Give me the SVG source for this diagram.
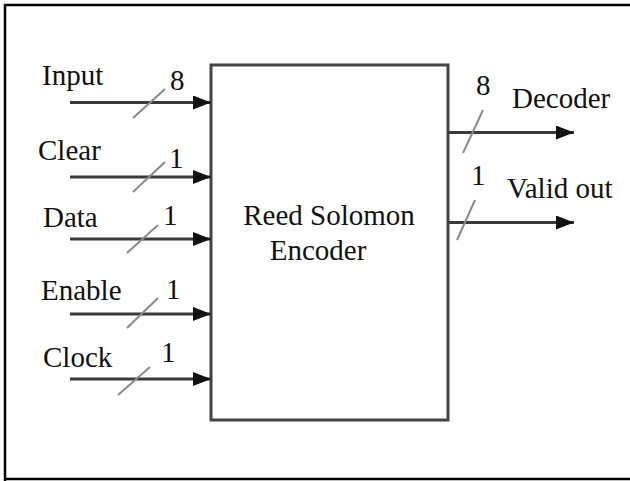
<svg xmlns="http://www.w3.org/2000/svg" width="630" height="481" viewBox="0 0 630 481">
<defs>
<style>
text{font-family:"Liberation Serif","Times New Roman",serif;font-size:29px;fill:#111}
.w{stroke:#3a3a3a;stroke-width:3;fill:none}
.s{stroke:#8a8a8a;stroke-width:2;fill:none}
</style>
<marker id="ah" markerUnits="userSpaceOnUse" markerWidth="20" markerHeight="14" refX="18" refY="7" orient="auto">
<path d="M0,0 L18,7 L0,14 Z" fill="#111"/>
</marker>
</defs>
<rect width="630" height="481" fill="#fff"/>
<path d="M5,481 L5,5 L632,5 M5,479 L632,479" fill="none" stroke="#000" stroke-width="2.5"/>
<g id="encoder">
<rect x="211" y="65" width="237" height="355" fill="#fff" stroke="#444" stroke-width="3"/>
<text x="329" y="225" text-anchor="middle">Reed Solomon</text>
<text x="318" y="260" text-anchor="middle">Encoder</text>
</g>
<g id="labels">
<text x="42" y="85">Input</text>
<text x="38" y="160">Clear</text>
<text x="43" y="227">Data</text>
<text x="41" y="300">Enable</text>
<text x="43" y="367">Clock</text>
<text x="170" y="90">8</text>
<text x="169" y="168">1</text>
<text x="163" y="225">1</text>
<text x="166" y="299">1</text>
<text x="161" y="362">1</text>
<text x="512" y="108">Decoder</text>
<text x="507" y="198">Valid out</text>
<text x="476" y="95">8</text>
<text x="471" y="185">1</text>
</g>
<g id="connectors">
<line class="w" x1="70" y1="102.5" x2="211" y2="102.5" marker-end="url(#ah)"/>
<line class="w" x1="70" y1="177" x2="211" y2="177" marker-end="url(#ah)"/>
<line class="w" x1="70" y1="239" x2="211" y2="239" marker-end="url(#ah)"/>
<line class="w" x1="70" y1="314" x2="211" y2="314" marker-end="url(#ah)"/>
<line class="w" x1="70" y1="379" x2="211" y2="379" marker-end="url(#ah)"/>
<line class="w" x1="448" y1="132.5" x2="574" y2="132.5" marker-end="url(#ah)"/>
<line class="w" x1="448" y1="222.5" x2="574" y2="222.5" marker-end="url(#ah)"/>
<line class="s" x1="133" y1="118" x2="165" y2="89"/>
<line class="s" x1="133" y1="192" x2="165" y2="162"/>
<line class="s" x1="127" y1="253" x2="158" y2="225"/>
<line class="s" x1="127" y1="328" x2="158" y2="298"/>
<line class="s" x1="118" y1="395" x2="150" y2="367"/>
<line class="s" x1="463" y1="153" x2="483" y2="110"/>
<line class="s" x1="457" y1="240" x2="475" y2="200"/>
</g>
</svg>
